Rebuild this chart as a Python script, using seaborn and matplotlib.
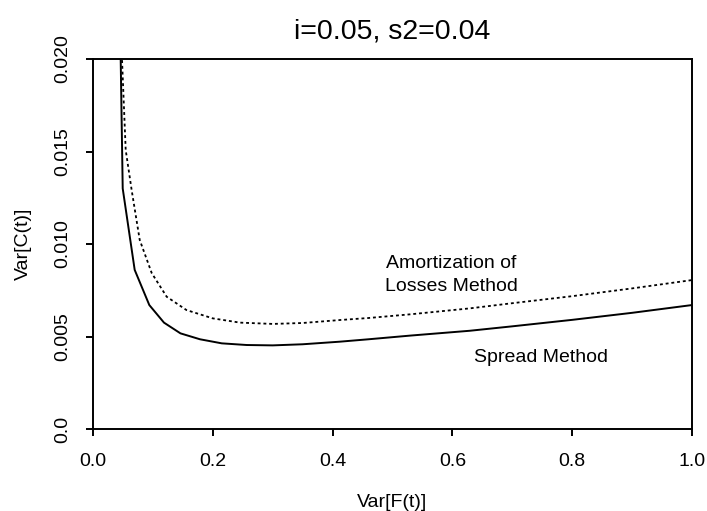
import matplotlib
matplotlib.use("Agg")
import matplotlib.pyplot as plt
import seaborn as sns
import pandas as pd

# Data
spread_x = [0.0455, 0.0496, 0.0696, 0.094, 0.1185, 0.146, 0.1786, 0.215, 0.2566,
            0.30, 0.35, 0.412, 0.46, 0.53, 0.629, 0.70, 0.80, 0.90, 1.0]
spread_y = [0.0215, 0.0130, 0.0086, 0.0067, 0.00575, 0.00517, 0.00485, 0.00463, 0.00454,
            0.00452, 0.00458, 0.00472, 0.00485, 0.00505, 0.00531, 0.00555, 0.00590, 0.00628, 0.0067]

amort_x = [0.0465, 0.0546, 0.0646, 0.078, 0.098, 0.123, 0.156, 0.20, 0.2454,
           0.30, 0.35, 0.412, 0.46, 0.53, 0.629, 0.70, 0.80, 0.90, 1.0]
amort_y = [0.0215, 0.01508, 0.0129, 0.01022, 0.00843, 0.00715, 0.00643, 0.00598, 0.00575,
           0.00568, 0.00573, 0.00589, 0.00600, 0.00620, 0.00652, 0.00680, 0.00718, 0.00760, 0.00805]

x_ticks = [0.0, 0.2, 0.4, 0.6, 0.8, 1.0]
x_tick_labels = ["0.0", "0.2", "0.4", "0.6", "0.8", "1.0"]
y_ticks = [0.0, 0.005, 0.010, 0.015, 0.020]
y_tick_labels = ["0.0", "0.005", "0.010", "0.015", "0.020"]

title_text = "i=0.05, s2=0.04"
x_label = "Var[F(t)]"
y_label = "Var[C(t)]"
amort_label = "Amortization of\nLosses Method"
spread_label = "Spread Method"

sns.set_theme(style="white")
plt.rcParams['font.family'] = ['Liberation Sans', 'DejaVu Sans']

W, H = 707, 511
fig = plt.figure(figsize=(W / 100, H / 100), dpi=100)
ax = fig.add_axes([93 / W, 1 - 429 / H, 599 / W, 370 / H])

df_s = pd.DataFrame({"x": spread_x, "y": spread_y})
df_a = pd.DataFrame({"x": amort_x, "y": amort_y})

sns.lineplot(data=df_s, x="x", y="y", ax=ax, color="black", lw=1.4,
             sort=False, estimator=None)
sns.lineplot(data=df_a, x="x", y="y", ax=ax, color="black", lw=1.3,
             linestyle=(0, (1.6, 1.6)), sort=False, estimator=None)

ax.set_xlim(0, 1.0)
ax.set_ylim(0, 0.020)
ax.set_xticks(x_ticks)
ax.set_xticklabels(x_tick_labels)
ax.set_yticks(y_ticks)
ax.set_yticklabels(y_tick_labels, rotation=90, va="center")

for sp in ax.spines.values():
    sp.set_visible(True)
    sp.set_color("black")
    sp.set_linewidth(1.4)

ax.tick_params(axis="both", direction="out", length=5, width=1.4, color="black",
               labelsize=14, labelcolor="black", bottom=True, left=True)
ax.tick_params(axis="x", pad=12.5)
ax.tick_params(axis="y", pad=11)

ax.set_xlabel(x_label, fontsize=14, color="black")
ax.set_ylabel(y_label, fontsize=14, color="black")
ax.xaxis.set_label_coords(0.5, (429 - 502) / 370)
ax.xaxis.label.set_va("center")
ax.yaxis.set_label_coords((23 - 93) / 599, 0.5)
ax.yaxis.label.set_va("center")

fig.text(392.5 / W, 1 - 38 / H, title_text, ha="center", va="baseline",
         fontsize=20.5, color="black")

ax.text(0.598, 0.00832, amort_label, ha="center", va="center",
        multialignment="center", linespacing=1.5, fontsize=14, color="black")
ax.text(0.748, 0.00389, spread_label, ha="center", va="center",
        fontsize=14, color="black")

fig.savefig("out.png", dpi=100)
